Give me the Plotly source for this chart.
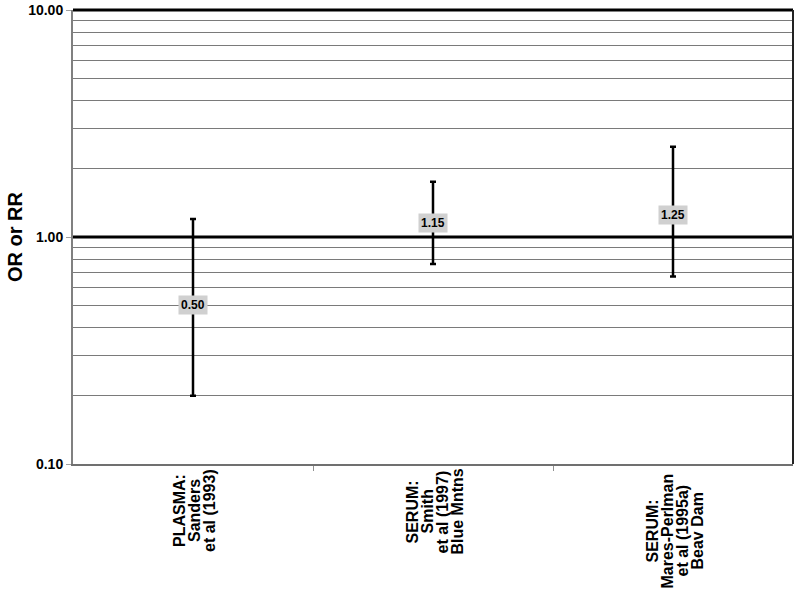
import math
import plotly.graph_objects as go

# ---- data ----
studies = ["PLASMA:<br>Sanders<br>et al (1993)",
           "SERUM:<br>Smith<br>et al (1997)<br>Blue Mntns",
           "SERUM:<br>Mares-Perlman<br>et al (1995a)<br>Beav Dam"]
estimate = [0.50, 1.15, 1.25]
ci_low = [0.20, 0.76, 0.67]
ci_high = [1.20, 1.75, 2.50]
y_tick_vals = [0.1, 1, 10]
y_tick_text = ["0.10", "1.00", "10.00"]
minor_vals = [0.2, 0.3, 0.4, 0.5, 0.6, 0.7, 0.8, 0.9,
              2, 3, 4, 5, 6, 7, 8, 9]

# ---- layout helpers (positions, not data) ----
label_center_shift = [-47, -48, -67]   # px below the plot bottom
line_gap = 15
FONT = "Liberation Sans, Arial, sans-serif"

cats = list(range(len(studies)))
err_plus = [h - e for h, e in zip(ci_high, estimate)]
err_minus = [e - l for e, l in zip(estimate, ci_low)]

fig = go.Figure()
fig.add_trace(go.Scatter(
    x=cats, y=estimate, mode="markers",
    marker=dict(size=1, color="black", opacity=0),
    error_y=dict(type="data", symmetric=False, array=err_plus,
                 arrayminus=err_minus, color="black", thickness=2.5, width=3),
    hoverinfo="skip", showlegend=False,
))

annotations = []
for i, (e, lab) in enumerate(zip(estimate, studies)):
    annotations.append(dict(
        x=i, y=math.log10(e), xref="x", yref="y",
        text="<b>%.2f</b>" % e, showarrow=False,
        font=dict(family=FONT, size=12, color="black"),
        bgcolor="#d0d0d0", borderpad=2,
    ))
    lines = lab.split("<br>")
    n = len(lines)
    for j, ln in enumerate(lines):
        annotations.append(dict(
            x=i, y=0, xref="x", yref="paper",
            text="<b>%s</b>" % ln, showarrow=False, textangle=-90,
            xanchor="center", yanchor="middle",
            xshift=(j - (n - 1) / 2) * line_gap + 1,
            yshift=label_center_shift[i],
            font=dict(family=FONT, size=16, color="black"),
        ))

# Y-axis title as annotation for exact placement
annotations.append(dict(
    x=0, y=0.5, xref="paper", yref="paper", xshift=-58,
    text="<b>OR or RR</b>", showarrow=False, textangle=-90,
    xanchor="center", yanchor="middle",
    font=dict(family=FONT, size=20, color="black"),
))

shapes = [
    dict(type="line", xref="paper", yref="paper", x0=0, x1=1, y0=1, y1=1,
         line=dict(color="black", width=3)),
    dict(type="line", xref="paper", yref="paper", x0=0, x1=1, y0=0.5, y1=0.5,
         line=dict(color="black", width=3)),
    dict(type="line", xref="paper", yref="paper", x0=1, x1=1, y0=0, y1=1,
         line=dict(color="#222222", width=2)),
]

fig.update_layout(
    width=800, height=589,
    margin=dict(l=73, r=7, t=10, b=125, autoexpand=False),
    paper_bgcolor="white", plot_bgcolor="white",
    font=dict(family=FONT, color="black"),
    annotations=annotations, shapes=shapes,
    xaxis=dict(
        range=[-0.5, len(studies) - 0.5], automargin=False,
        tickvals=[i + 0.5 for i in cats[:-1]],
        showticklabels=False, ticks="outside", ticklen=5,
        tickcolor="#909090", tickwidth=1,
        showgrid=False, zeroline=False,
        showline=True, linecolor="#707070", linewidth=2,
    ),
    yaxis=dict(
        type="log", range=[-1, 1], automargin=False,
        tickvals=y_tick_vals, ticktext=["<b>%s</b>" % t for t in y_tick_text],
        tickfont=dict(family=FONT, size=14, color="black"),
        ticks="outside", ticklen=5, tickcolor="#a0a0a0",
        showgrid=False, zeroline=False,
        showline=True, linecolor="#808080", linewidth=2,
        minor=dict(tickvals=minor_vals, showgrid=True,
                   gridcolor="#7a7a7a", gridwidth=1, ticks=""),
    ),
)

fig.write_html("out.html",
               config={"displayModeBar": False},
               post_script="document.body.style.margin='0';"
                           "document.body.style.overflow='hidden';")
